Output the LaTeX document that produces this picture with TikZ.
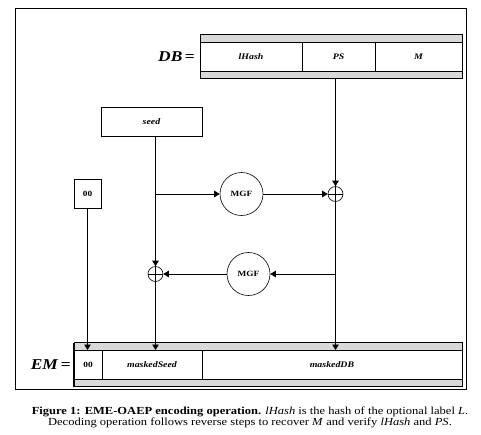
\documentclass[tikz,border=0pt]{standalone}
\usepackage{fontspec}
\setmainfont{Liberation Serif}[FakeStretch=1.16]
\usepackage{tikz}
\usetikzlibrary{positioning, calc, arrows.meta}
\definecolor{bandGray}{RGB}{217, 217, 217}

\begin{document}
\begin{tikzpicture}[
    x=1pt, y=-1pt,
    field/.style={rectangle, draw, fill=white, line width=0.8pt, outer sep=0pt,
                  minimum height=29pt, inner sep=0pt,
                  font=\fontsize{8.5}{9}\selectfont\bfseries\itshape},
    band/.style={rectangle, draw, fill=bandGray, line width=0.8pt, outer sep=0pt,
                 minimum height=7.5pt, inner sep=0pt},
    box/.style={rectangle, draw, line width=0.8pt, minimum height=29pt, inner sep=0pt,
                font=\fontsize{8}{9}\selectfont\bfseries},
    mgfnode/.style={circle, draw, line width=0.6pt, minimum size=43pt, inner sep=0pt,
                    font=\fontsize{8}{9}\selectfont\bfseries},
    xornode/.style={circle, draw, line width=0.6pt, minimum size=15pt, inner sep=0pt,
                    path picture={\draw[line width=0.6pt]
                      (path picture bounding box.north) -- (path picture bounding box.south)
                      (path picture bounding box.west) -- (path picture bounding box.east);}},
    lbl/.style={inner sep=0pt, font=\fontsize{15}{18}\selectfont\bfseries},
    conn/.style={line width=0.8pt, -{Triangle[length=5.5pt, width=6.5pt]}}
  ]
    \useasboundingbox (0,0) rectangle (481,434);
    \draw[line width=0.9pt] (15,8) rectangle (466,389);

    % DB block
    \node[field, minimum width=102pt, anchor=west] (lhash) at (200,56.5) {lHash};
    \node[field, minimum width=73pt, right=0pt of lhash] (ps) {PS};
    \node[field, minimum width=87pt, right=0pt of ps] (msg) {M};
    \node[band, minimum width=262pt, anchor=south west] (dbtop) at (lhash.north west) {};
    \node[band, minimum width=262pt, anchor=north west] (dbbot) at (lhash.south west) {};
    \node[lbl, left=5pt of lhash] (dblbl) {\textit{DB}\,=};

    % EM block
    \node[field, minimum width=28pt, anchor=west, font=\fontsize{8}{9}\selectfont\bfseries]
      (em00) at (74,364.5) {00};
    \node[field, minimum width=100pt, right=0pt of em00] (mseed) {maskedSeed};
    \node[field, minimum width=260pt, right=0pt of mseed] (mdb) {maskedDB};
    \node[band, minimum width=388pt, anchor=south west] (emtop) at (em00.north west) {};
    \node[band, minimum width=388pt, anchor=north west] (embot) at (em00.south west) {};
    \draw[line width=1.6pt] (emtop.north west) -- (embot.south west);
    \node[lbl, left=3pt of em00] (emlbl) {\textit{EM}\,=};

    \node[box, minimum width=101pt, font=\fontsize{8.5}{9}\selectfont\bfseries\itshape]
      (seed) at (151.5,121.5) {seed};
    \node[box, minimum width=27pt] (zero) at (87.5,193.5) {00};

    \node[mgfnode] (mgf1) at (241.5,194) {MGF};
    \node[mgfnode] (mgf2) at (248.5,274) {MGF};
    \node[xornode] (xor1) at (335.5,194) {};
    \node[xornode] (xor2) at (155.5,274) {};
    \coordinate (dbout) at (dbbot.south -| xor1);

    \draw[conn] (seed.south -| xor2) -- (xor2);
    \draw[conn] (mgf1 -| xor2) -- (mgf1);
    \draw[conn] (mgf1) -- (xor1);
    \draw[conn] (dbout) -- (xor1);
    \draw[conn] (xor1) -- (xor1 |- mdb.north);
    \draw[conn] (mgf2 -| xor1) -- (mgf2);
    \draw[conn] (mgf2) -- (xor2);
    \draw[conn] (xor2) -- (xor2 |- mseed.north);
    \draw[conn] (zero) -- (zero |- em00.north);

    \node[align=center, inner sep=0pt, font=\fontsize{10.8}{11}\selectfont] (caption) at (250,417)
      {\textbf{Figure 1: EME-OAEP encoding operation.} \textit{lHash} is the hash of the optional label \textit{L}.\\
       Decoding operation follows reverse steps to recover \textit{M} and verify \textit{lHash} and \textit{PS}.};
\end{tikzpicture}
\end{document}
